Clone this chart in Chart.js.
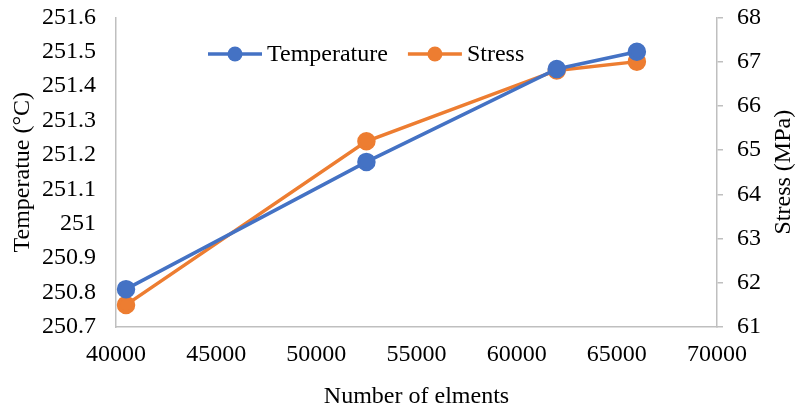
<!DOCTYPE html>
<html>
<head>
<meta charset="utf-8">
<script src="https://cdn.jsdelivr.net/npm/chart.js@4.4.1/dist/chart.umd.min.js"></script>
<style>
  html, body { margin: 0; padding: 0; background: #fff; }
  #frame { width: 798px; height: 414px; position: relative; overflow: hidden; }
  #wrap { width: 798px; height: 425px; position: absolute; left: 0; top: -11px; }
</style>
</head>
<body>
<div id="frame"><div id="wrap"><canvas id="myChart"></canvas></div></div>
<script>
// values
const elements = [40500, 52500, 62000, 66000];
const temperature = [250.81, 251.18, 251.45, 251.50];
const stress = [61.5, 65.2, 66.8, 67.0];
const xRange = [40000, 70000];
const xStep = 5000;
const tempRange = [250.7, 251.6];
const tempStep = 0.1;
const stressRange = [61, 68];
const stressStep = 1;
const stressTitle = 'Stress (MPa)';

const FONT = "'Liberation Serif', 'Times New Roman', serif";
const SIZE = 24;
const axisColor = '#bfbfbf';

// legend drawn inside the plot: short line with a dot, then the label
const lineLegend = {
  id: 'lineLegend',
  afterDraw(chart) {
    const ctx = chart.ctx;
    let x = 208;
    const y = 65;
    ctx.save();
    ctx.font = SIZE + "px " + FONT;
    ctx.textBaseline = 'middle';
    chart.data.datasets.forEach(ds => {
      ctx.strokeStyle = ds.borderColor;
      ctx.lineWidth = 3.5;
      ctx.beginPath();
      ctx.moveTo(x, y);
      ctx.lineTo(x + 54, y);
      ctx.stroke();
      ctx.fillStyle = ds.borderColor;
      ctx.beginPath();
      ctx.arc(x + 27, y, 7.5, 0, Math.PI * 2);
      ctx.fill();
      ctx.fillStyle = '#000';
      ctx.fillText(ds.label, x + 59, y + 1);
      x += 59 + ctx.measureText(ds.label).width + 20;
    });
    ctx.restore();
  }
};

// right axis title reads bottom-to-top, like the left one
const rightTitle = {
  id: 'rightTitle',
  afterDraw(chart) {
    const ctx = chart.ctx;
    const a = chart.chartArea;
    ctx.save();
    ctx.translate(784, (a.top + a.bottom) / 2);
    ctx.rotate(-Math.PI / 2);
    ctx.font = SIZE + "px " + FONT;
    ctx.fillStyle = '#000';
    ctx.textAlign = 'center';
    ctx.textBaseline = 'middle';
    ctx.fillText(stressTitle, 0, 0);
    ctx.restore();
  }
};

const fmt = v => String(parseFloat(Number(v).toFixed(1)));

new Chart(document.getElementById('myChart'), {
  type: 'line',
  data: {
    datasets: [{
      label: 'Temperature',
      data: elements.map((x, i) => ({ x: x, y: temperature[i] })),
      yAxisID: 'yT',
      borderColor: '#4472C4',
      backgroundColor: '#4472C4',
      borderWidth: 3.5,
      pointRadius: 7.5,
      pointHoverRadius: 7.5,
      tension: 0
    }, {
      label: 'Stress',
      data: elements.map((x, i) => ({ x: x, y: stress[i] })),
      yAxisID: 'yS',
      borderColor: '#ED7D31',
      backgroundColor: '#ED7D31',
      borderWidth: 3.5,
      pointRadius: 7.5,
      pointHoverRadius: 7.5,
      tension: 0
    }]
  },
  options: {
    responsive: true,
    maintainAspectRatio: false,
    animation: false,
    layout: { padding: 0 },
    plugins: { legend: { display: false }, tooltip: { enabled: false } },
    scales: {
      x: {
        type: 'linear',
        min: xRange[0], max: xRange[1],
        afterFit: s => { s.height = 87; },
        ticks: { stepSize: xStep, color: '#000', font: { family: FONT, size: SIZE }, padding: 5, maxRotation: 0, callback: v => String(v) },
        grid: { display: false },
        border: { color: axisColor, width: 1.5 },
        title: { display: true, text: 'Number of elments', color: '#000', font: { family: FONT, size: SIZE }, padding: { top: 0, bottom: 3 } }
      },
      yT: {
        position: 'left',
        min: tempRange[0], max: tempRange[1],
        afterFit: s => { s.width = 116; },
        ticks: { stepSize: tempStep, color: '#000', font: { family: FONT, size: SIZE }, padding: 12, callback: fmt },
        grid: { display: false },
        border: { color: axisColor, width: 1.5 },
        title: { display: true, text: 'Temperatue (°C)', color: '#000', font: { family: FONT, size: SIZE }, padding: { top: 8, bottom: 0 } }
      },
      yS: {
        position: 'right',
        min: stressRange[0], max: stressRange[1],
        afterFit: s => { s.width = 81; },
        ticks: { stepSize: stressStep, color: '#000', font: { family: FONT, size: SIZE }, padding: 14, callback: v => String(v) },
        grid: { drawOnChartArea: false, drawTicks: true, tickLength: 6, color: axisColor, lineWidth: 1.5 },
        border: { color: axisColor, width: 1.5 },
        title: { display: false }
      }
    }
  },
  plugins: [lineLegend, rightTitle]
});
</script>
</body>
</html>
